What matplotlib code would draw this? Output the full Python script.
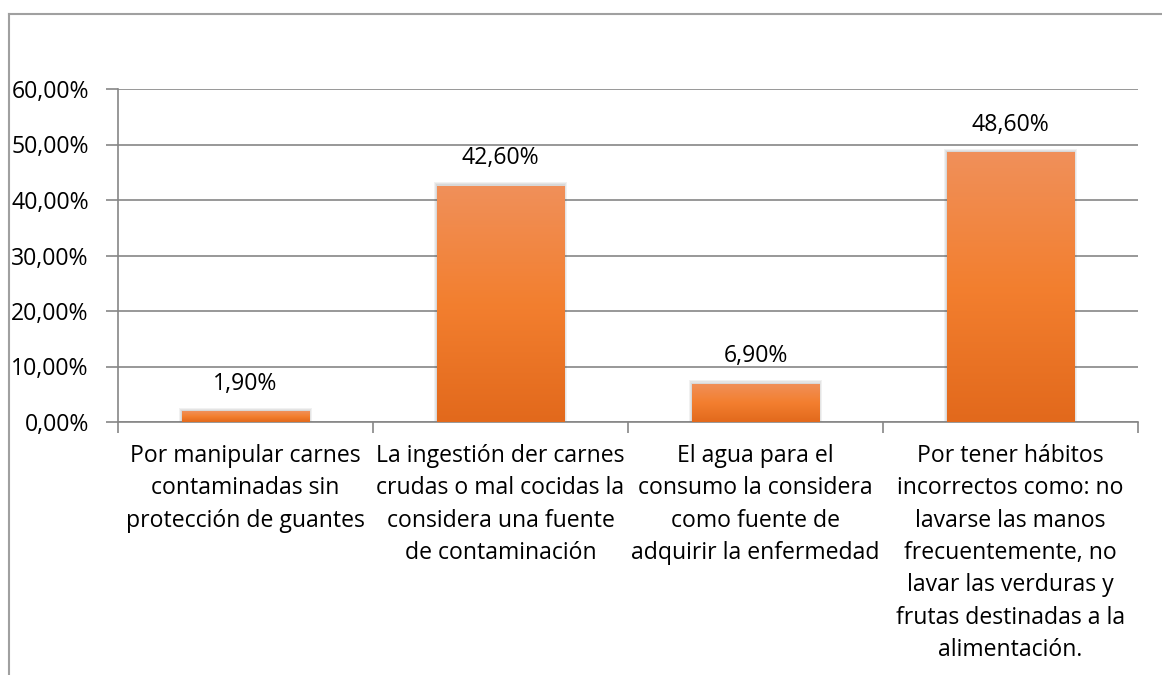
import numpy as np
import matplotlib
matplotlib.use("Agg")
import matplotlib.pyplot as plt
from matplotlib.colors import LinearSegmentedColormap
from matplotlib.lines import Line2D

plt.rcParams['font.family'] = ['Open Sans', 'DejaVu Sans']

categories = [
    "Por manipular carnes\ncontaminadas sin\nprotección de guantes",
    "La ingestión der carnes\ncrudas o mal cocidas la\nconsidera una fuente\nde contaminación",
    "El agua para el\nconsumo la considera\ncomo fuente de\nadquirir la enfermedad",
    "Por tener hábitos\nincorrectos como: no\nlavarse las manos\nfrecuentemente, no\nlavar las verduras y\nfrutas destinadas a la\nalimentación.",
]
values = [0.019, 0.426, 0.069, 0.486]
yticks = [0.0, 0.1, 0.2, 0.3, 0.4, 0.5, 0.6]


def pct(v):
    return f"{v * 100:.2f}%".replace('.', ',')


W, H = 1162, 675
fig = plt.figure(figsize=(W / 100, H / 100), dpi=100)
ax = fig.add_axes([118 / W, 1 - 422 / H, (1138 - 118) / W, (422 - 89) / H])

grid_col = '#868686'
fs = 16.6

x = np.arange(len(values))
bars = ax.bar(x, values, width=0.5, color='none', zorder=3)

# vertical gradient inside each bar, with a soft shadow behind
cmap = LinearSegmentedColormap.from_list('orange', ['#F0905A', '#F37F2F', '#E2691C'])
grad = np.linspace(0, 1, 256).reshape(-1, 1)
for b in bars:
    x0, w, h = b.get_x(), b.get_width(), b.get_height()
    for i in range(3):
        d = 0.004 * (i + 1)
        ax.add_patch(plt.Rectangle((x0 - d, 0), w + 2 * d, h + 0.002 * (i + 1),
                                   color='#404040', alpha=0.07, lw=0, zorder=2))
    im = ax.imshow(grad, cmap=cmap, aspect='auto', extent=(x0, x0 + w, 0, h),
                   zorder=3, origin='upper')
    im.set_clip_path(b)
    ax.text(x0 + w / 2, h + 0.05, pct(h), ha='center', va='center',
            fontsize=fs, color='black', zorder=4)

ax.set_xlim(-0.5, len(values) - 0.5)
ax.set_ylim(0, 0.6)
ax.set_yticks(yticks)
ax.set_yticklabels([pct(v) for v in yticks], fontsize=fs)
ax.yaxis.grid(True, color=grid_col, lw=1.2, zorder=0)
ax.set_axisbelow(True)

ax.set_xticks(np.arange(-0.5, len(values), 1.0))
ax.set_xticklabels([])
ax.tick_params(axis='x', direction='out', length=8, color=grid_col, width=1.2)
ax.tick_params(axis='y', direction='out', length=9, color=grid_col, width=1.2, pad=12)
for i, c in enumerate(categories):
    ax.text(i, -0.039, c, ha='center', va='top', fontsize=fs,
            linespacing=1.47, transform=ax.transData, clip_on=False)

for s in ['top', 'right']:
    ax.spines[s].set_visible(False)
for s in ['left', 'bottom']:
    ax.spines[s].set_color(grid_col)
    ax.spines[s].set_linewidth(1.2)

# outer chart frame (left and top edges)
frame_col = '#A0A0A0'
fig.add_artist(Line2D([9 / W, 9 / W], [0, 1 - 14 / H], color=frame_col, lw=1.5))
fig.add_artist(Line2D([9 / W, 1], [1 - 14 / H, 1 - 14 / H], color=frame_col, lw=1.5))

fig.savefig('out.png', dpi=100, facecolor='white')
